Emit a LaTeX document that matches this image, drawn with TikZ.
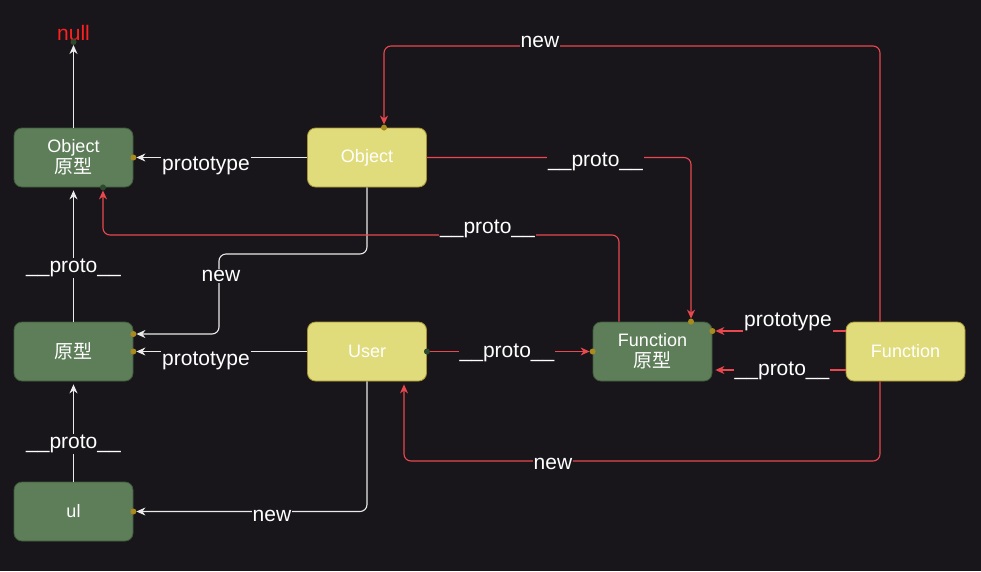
\documentclass[tikz,border=0pt]{standalone}
\usepackage{fontspec}
\setmainfont{Liberation Sans}
\newfontfamily\cjk{Noto Sans CJK SC}
\usetikzlibrary{arrows.meta,calc}
\definecolor{bg}{HTML}{18161B}
\definecolor{gfill}{HTML}{5E7E59}
\definecolor{gdraw}{HTML}{3F5A3B}
\definecolor{yfill}{HTML}{E0DC7C}
\definecolor{ydraw}{HTML}{A89232}
\definecolor{redline}{HTML}{E8484E}
\definecolor{whiteline}{HTML}{EAEAEA}
\definecolor{gold}{HTML}{A88A1E}
\definecolor{dgreen}{HTML}{2E4A2C}
\definecolor{nullred}{HTML}{FF2020}
\begin{document}
\begin{tikzpicture}[x=1pt,y=-1pt,
  box/.style={rounded corners=8pt, minimum width=119pt, minimum height=59pt, line width=0.8pt, align=center, text=white, font=\fontsize{18}{21}\selectfont, inner sep=0pt},
  gbox/.style={box, fill=gfill, draw=gdraw},
  ybox/.style={box, fill=yfill, draw=ydraw},
  wedge/.style={draw=whiteline, line width=1.1pt, -{Stealth[length=9pt,width=8pt]}, rounded corners=7pt, shorten >=3pt},
  redge/.style={draw=redline, line width=1.1pt, -{Stealth[length=9pt,width=8pt]}, rounded corners=7pt, shorten >=3pt},
  lbl/.style={fill=bg, text=white, font=\fontsize{21}{24}\selectfont, inner sep=1pt},
  gdot/.style={circle, fill=gold, inner sep=0pt, minimum size=6pt},
  ddot/.style={circle, fill=dgreen, inner sep=0pt, minimum size=6pt}]
\fill[bg] (0,0) rectangle (981,571);
\useasboundingbox (0,0) rectangle (981,571);

% nodes
\node[text=nullred, font=\fontsize{21}{24}\selectfont, anchor=south, inner sep=1pt] (null) at (73.5,42) {null};
\node[gbox] (op) at (73.5,157.5) {Object\\{\cjk\fontsize{19}{21}\selectfont 原型}};
\node[ybox] (obj) at (367,157.5) {Object};
\node[gbox, font=\cjk\fontsize{19}{21}\selectfont] (pr) at (73.5,351.5) {原型};
\node[ybox] (user) at (367,351.5) {User};
\node[gbox] (ul) at (73.5,511.5) {ul};
\node[gbox] (fp) at (652.5,351.5) {Function\\{\cjk\fontsize{19}{21}\selectfont 原型}};
\node[ybox] (fn) at (905.5,351.5) {Function};

% white edges
\draw[wedge] (op.north) -- (null.south);
\draw[wedge] (obj.west) -- (op.east);
\draw[wedge] (pr.north) -- (op.south);
\draw[wedge] (ul.north) -- (pr.south);
\draw[wedge] (user.west) -- (pr.east);
\draw[wedge] (obj.south) -- (367,254) -- (219,254) -- (219,334) -- ($(pr.east)+(0,-17.5)$);
\draw[wedge] (user.south) -- (367,511.5) -- (ul.east);

% red edges
\draw[redge] (user.east) -- (fp.west);
\draw[redge] (obj.east) -- (691,157.5) -- ($(fp.north)+(38.5,0)$);
\draw[redge] ($(fp.north)+(-33.5,0)$) -- (619,235) -- (103,235) -- ($(op.south)+(29.5,0)$);
\draw[redge] ($(fn.north)+(-25.5,0)$) -- (880,46) -- (384,46) -- ($(obj.north)+(17,0)$);
\draw[redge] ($(fn.west)+(0,-20.5)$) -- ($(fp.east)+(0,-20.5)$);
\draw[redge] ($(fn.west)+(0,18.5)$) -- ($(fp.east)+(0,18.5)$);
\draw[redge] ($(fn.south)+(-25.5,0)$) -- (880,461) -- (404,461) -- ($(user.south)+(37,0)$);

% end dots
\node[ddot] (d1) at (null.south) {};
\node[gdot] (d2) at (op.east) {};
\node[gdot] (d3) at ($(pr.east)+(0,-17.5)$) {};
\node[gdot] (d4) at (pr.east) {};
\node[gdot] (d5) at (ul.east) {};
\node[gdot] (d6) at (fp.west) {};
\node[gdot] (d7) at ($(fp.north)+(38.5,0)$) {};
\node[gdot] (d8) at ($(fp.east)+(0,-20.5)$) {};
\node[gdot] (d9) at ($(obj.north)+(17,0)$) {};
\node[ddot] (d10) at (user.east) {};
\node[ddot] (d11) at ($(op.south)+(29.5,0)$) {};

% labels
\node[lbl] (l1) at (206,166) {prototype};
\node[lbl] (l2) at (73.5,268) {\_\_proto\_\_};
\node[lbl] (l3) at (221,276) {new};
\node[lbl] (l4) at (73.5,444) {\_\_proto\_\_};
\node[lbl] (l5) at (206,361) {prototype};
\node[lbl] (l6) at (272,516) {new};
\node[lbl] (l7) at (507,353) {\_\_proto\_\_};
\node[lbl] (l8) at (595.5,162) {\_\_proto\_\_};
\node[lbl] (l9) at (487.5,229) {\_\_proto\_\_};
\node[lbl] (l10) at (540,42) {new};
\node[lbl] (l11) at (788,322) {prototype};
\node[lbl] (l12) at (782,371) {\_\_proto\_\_};
\node[lbl] (l13) at (553,464) {new};
\end{tikzpicture}
\end{document}
